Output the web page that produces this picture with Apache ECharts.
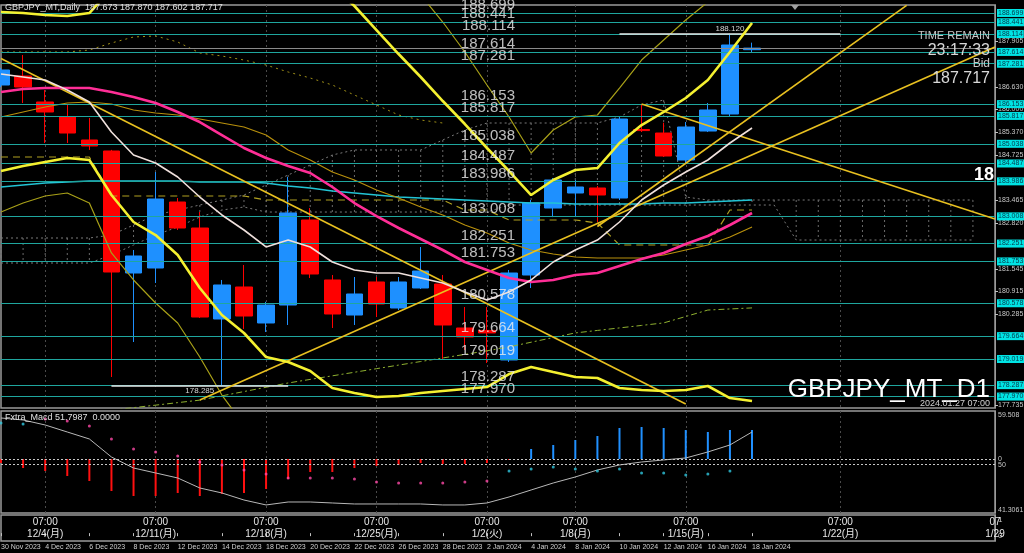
<!DOCTYPE html>
<html><head><meta charset="utf-8">
<script src="https://cdn.jsdelivr.net/npm/echarts@6/dist/echarts.min.js"></script>
<style>html,body{margin:0;padding:0;background:#000;}#c{width:1024px;height:553px;}</style>
</head><body><div id="c"></div>
<script>
const categories = ['30 Nov 2023','1 Dec 2023','4 Dec 2023','5 Dec 2023','6 Dec 2023','7 Dec 2023','8 Dec 2023','11 Dec 2023','12 Dec 2023','13 Dec 2023','14 Dec 2023','15 Dec 2023','18 Dec 2023','19 Dec 2023','20 Dec 2023','21 Dec 2023','22 Dec 2023','25 Dec 2023','26 Dec 2023','27 Dec 2023','28 Dec 2023','29 Dec 2023','2 Jan 2024','3 Jan 2024','4 Jan 2024','5 Jan 2024','8 Jan 2024','9 Jan 2024','10 Jan 2024','11 Jan 2024','12 Jan 2024','15 Jan 2024','16 Jan 2024','17 Jan 2024','18 Jan 2024','19 Jan 2024','20 Jan 2024','21 Jan 2024','22 Jan 2024','23 Jan 2024','24 Jan 2024','25 Jan 2024','26 Jan 2024','27 Jan 2024','28 Jan 2024','29 Jan 2024'];
const weekTickDates = ['4 Dec 2023','11 Dec 2023','18 Dec 2023','25 Dec 2023','2 Jan 2024','8 Jan 2024','15 Jan 2024','22 Jan 2024','29 Jan 2024'];
const weekTickTexts = ['07:00\n12/4(月)','07:00\n12/11(月)','07:00\n12/18(月)','07:00\n12/25(月)','07:00\n1/2(火)','07:00\n1/8(月)','07:00\n1/15(月)','07:00\n1/22(月)','07\n1/29'];
const lastBarDate = '18 Jan 2024';

const opens  = [186.685,186.937,186.210,185.790,185.147,184.839,181.426,181.566,183.412,182.685,180.140,181.035,180.028,180.531,182.909,181.231,180.251,181.175,180.447,181.007,181.119,179.888,179.820,178.993,181.370,183.244,183.664,183.804,183.524,185.440,185.342,184.587,185.398,185.874,187.673];
const closes = [187.105,186.629,185.930,185.342,184.979,181.454,181.902,183.496,182.685,180.195,181.091,180.223,180.531,183.105,181.398,180.279,180.839,180.559,181.175,181.482,179.972,179.636,179.750,181.426,183.384,184.028,183.832,183.608,185.734,185.410,184.699,185.510,185.986,187.804,187.717];
const lows   = [186.630,186.182,185.063,185.063,184.867,178.517,179.496,181.147,182.629,180.168,178.285,179.860,179.776,179.972,181.286,179.888,179.972,180.195,180.391,180.979,178.993,179.272,178.909,178.937,181.007,182.990,182.990,182.850,183.468,185.370,184.671,184.503,185.370,185.790,187.602];
const highs  = [187.161,187.524,186.545,186.126,185.762,184.870,182.070,184.251,183.524,183.133,181.231,181.650,180.620,184.112,183.244,181.370,181.314,181.314,181.314,182.154,181.370,180.475,180.475,181.510,183.468,184.084,184.028,183.860,185.790,186.126,185.630,185.650,186.182,188.120,187.870];

const bbMid   = [186.489,186.573,186.601,186.601,186.601,186.489,186.349,186.182,185.930,185.650,185.286,184.923,184.643,184.419,184.223,183.832,183.384,183.020,182.685,182.377,182.070,181.734,181.510,181.286,181.175,181.231,181.370,181.426,181.622,181.818,181.986,182.238,182.461,182.769,183.105];
const bbUp2   = [188.727,188.699,188.643,188.615,188.699,189.370,189.846,189.874,189.930,190.293,190.321,190.098,190.209,189.902,189.762,189.454,188.895,188.223,187.552,186.909,186.237,185.594,184.923,184.279,183.608,184.028,184.307,184.363,185.063,185.566,185.930,186.321,186.825,187.608,188.419];
const bbLow2  = [184.279,184.419,184.531,184.643,184.587,183.608,182.853,182.489,181.930,181.007,180.251,179.748,179.076,178.936,178.685,178.209,178.069,177.957,177.985,178.069,178.125,178.181,178.237,178.600,178.796,178.656,178.517,178.489,178.209,178.153,178.125,178.153,178.265,177.929,177.845];
const bbUp3   = [189.790,189.790,189.706,189.538,189.622,190.797,191.580,191.720,191.916,192.615,192.839,192.699,192.979,192.643,192.531,192.279,191.356,190.629,189.734,189.202,188.447,187.608,186.685,185.790,184.783,185.426,185.790,185.846,186.601,187.384,187.944,188.503,189.007,189.622,190.321];
const bbLow3  = [183.132,183.384,183.580,183.664,183.384,181.986,181.231,180.587,180.028,179.076,178.013,177.174,176.307,176.195,175.915,175.412,175.412,175.440,175.636,175.915,176.167,176.419,176.614,177.258,177.594,177.370,177.090,177.034,176.503,176.335,176.195,176.111,176.167,175.524,175.216];
const maWhite = [186.993,186.909,186.825,186.545,186.209,185.370,184.727,184.503,184.112,183.552,183.049,182.629,182.154,182.349,182.154,181.734,181.510,181.426,181.426,181.286,181.147,180.895,180.671,180.895,181.231,181.734,182.070,182.349,182.853,183.468,183.888,184.251,184.587,185.063,185.482];
const maCyan  = [183.832,183.888,183.944,183.972,184.000,184.000,184.000,184.000,184.000,183.972,183.972,183.972,183.944,183.860,183.804,183.720,183.664,183.608,183.552,183.524,183.496,183.468,183.440,183.412,183.384,183.384,183.356,183.356,183.356,183.356,183.384,183.384,183.412,183.440,183.468];
const maOlive = [185.790,185.930,186.070,186.182,186.209,186.153,185.986,185.902,185.846,185.734,185.622,185.510,185.286,184.867,184.587,184.251,184.028,183.748,183.524,183.272,183.049,182.769,182.545,182.265,182.070,181.958,181.874,181.846,181.846,181.846,181.930,182.070,182.209,182.433,182.713];
const kijun   = [184.671,184.671,184.671,184.671,184.671,183.580,183.580,183.580,183.580,183.580,183.580,183.580,183.468,183.468,183.468,183.468,183.468,183.468,183.468,183.468,183.468,183.188,183.188,182.909,182.909,182.909,182.909,182.825,182.209,182.209,182.209,182.209,182.209,183.188,183.188];
const chikou  = [null,null,null,null,null,177.59,177.66,177.73,177.80,177.87,177.99,178.11,178.23,178.35,178.45,178.55,178.65,178.75,178.85,178.95,179.05,179.15,179.25,179.36,179.49,179.62,179.75,179.82,179.89,179.96,180.03,180.21,180.39,180.42,180.45];
const spanDotted = [187.608,187.608,187.608,187.608,187.664,187.860,188.028,188.056,187.888,187.580,187.496,187.384,187.244,187.049,186.881,186.685,186.405,186.126,185.846,185.706,185.622];
const cloudTop = [182.405,182.405,182.405,182.405,182.405,182.489,182.769,183.049,183.188,183.328,183.468,183.608,183.888,184.167,184.447,184.727,184.867,184.867,184.867,184.867,185.147,185.426,185.622,185.622,185.622,185.622,185.622,185.622,185.790,186.126,186.265,183.552,183.468,183.468,183.468,183.468,183.468,183.468,183.468,183.468,183.468,183.468,183.468,183.468,183.468,null];
const cloudBot = [181.706,181.706,181.706,181.706,181.706,181.930,182.209,182.489,182.713,182.993,183.188,183.272,183.132,183.132,183.132,183.132,183.132,183.132,183.132,183.132,183.132,183.132,183.132,183.328,183.328,183.328,183.328,183.328,183.328,183.328,183.328,183.328,183.328,183.328,183.328,183.328,182.349,182.349,182.349,182.349,182.349,182.349,182.349,182.349,182.349,null];

const levels = [188.699,188.441,188.114,187.614,187.281,186.153,185.817,185.038,184.487,183.986,183.008,182.251,181.753,180.578,179.664,179.019,178.287,177.970];
const priceTicks = [187.905,186.630,186.000,185.370,184.725,183.465,182.820,181.545,180.915,180.285,177.735];
const bidPrice = 187.717;
const recentHigh = 188.120, recentLow = 178.285;
const trendLines = [
  [['30 Nov 2023',187.426],['15 Jan 2024',177.760]],
  [['13 Dec 2023',177.874],['29 Jan 2024',187.748]],
  [['9 Jan 2024',182.727],['25 Jan 2024',188.914]],
  [['11 Jan 2024',186.153],['29 Jan 2024',182.937]]
];

const macdHist = [-0.04,-0.09,-0.12,-0.17,-0.22,-0.32,-0.37,-0.37,-0.34,-0.37,-0.35,-0.34,-0.30,-0.20,-0.13,-0.13,-0.09,-0.07,-0.06,-0.04,-0.05,-0.05,-0.04,-0.01,0.10,0.14,0.19,0.23,0.31,0.32,0.31,0.29,0.27,0.29,0.29];
const signalPink = [null,null,0.40,0.38,0.33,0.20,0.10,0.07,0.03,-0.03,-0.06,-0.11,-0.15,-0.19,-0.19,-0.19,-0.20,-0.23,-0.24,-0.24,-0.24,-0.23,-0.22,null,null,null,null,null,null,null,null,null,null,null,null];
const signalCyan = [0.36,0.35,null,null,null,null,null,null,null,null,null,null,null,null,null,null,null,null,null,null,null,null,null,-0.12,-0.10,-0.08,-0.10,-0.12,-0.10,-0.14,-0.14,-0.16,-0.15,-0.12,null];
const oscLine = [58.93,58.55,57.59,56.25,54.91,51.46,49.35,48.40,47.44,45.52,44.57,43.22,42.27,42.84,42.84,42.65,42.46,42.46,42.46,42.46,42.27,42.27,42.65,43.80,45.14,46.48,47.63,48.97,49.93,50.50,50.89,51.27,52.42,53.76,56.25];
const oscTicks = [59.508,50,41.3061];
const oscTickText = ['59.508','50','41.3061'];

const FONT = '"Liberation Sans", Arial, sans-serif';
const GRIDC = '#9a9a9a';
const candleData = opens.map((o,i)=>[o, closes[i], lows[i], highs[i]]);
const isWeek = (i)=> weekTickDates.indexOf(categories[i]) >= 0;
const lastIdx = categories.indexOf(lastBarDate);

const chart = echarts.init(document.getElementById('c'), null, {renderer:'canvas'});

function lineSeries(name, data, color, width, type, z){
  return {name, type:'line', xAxisIndex:0, yAxisIndex:0, data, showSymbol:false, symbol:'none',
    lineStyle:{color, width, type: type||'solid'}, z: z||4, silent:true, connectNulls:false};
}

const levelMarks = levels.map(v=>({yAxis:v, lineStyle:{color:'#1fa69e', width:1, type:'solid'},
  label:{show:true, position:'end', distance:2, formatter: v.toFixed(3), fontSize:7, fontFamily:FONT,
    color:'#05384a', backgroundColor:'#00e4e4', padding:[1,1,0,1]}}));
levelMarks.push({yAxis:bidPrice, lineStyle:{color:'#8a8a8a', width:1, type:'solid'}, label:{show:false}});
const segMarks = [
  [{coord:['10 Jan 2024', recentHigh], lineStyle:{color:'#e8e8e8', width:1.5, type:'solid'},
    label:{show:true, position:'insideMiddleTop', formatter: recentHigh.toFixed(3), color:'#d8d8d8', fontSize:8, fontFamily:FONT, distance:1}},
   {coord:['22 Jan 2024', recentHigh]}],
  [{coord:['7 Dec 2023', recentLow], lineStyle:{color:'#e8e8e8', width:1.5, type:'solid'},
    label:{show:true, position:'insideMiddleBottom', formatter: recentLow.toFixed(3), color:'#d8d8d8', fontSize:8, fontFamily:FONT, distance:1}},
   {coord:['19 Dec 2023', recentLow]}]
];
const trendMarks = trendLines.map(t=>[{coord:t[0], lineStyle:{color:'#e8c020', width:1.6, type:'solid'}, label:{show:false}},{coord:t[1]}]);

const gridBase = {left:1, right:29, show:true, borderColor:GRIDC, borderWidth:1.5, outerBoundsMode:'none', containLabel:false};

const option = {
  backgroundColor:'#000',
  animation:false,
  textStyle:{fontFamily:FONT},
  grid:[
    Object.assign({}, gridBase, {top:5, height:403}),
    Object.assign({}, gridBase, {top:411, height:102}),
    Object.assign({}, gridBase, {top:515, height:26})
  ],
  xAxis:[
    {gridIndex:0, type:'category', data:categories, boundaryGap:false, axisLine:{show:false}, axisTick:{show:false}, axisLabel:{show:false},
      splitLine:{show:true, interval:(i)=>isWeek(i), lineStyle:{color:'#4a4a4a', type:[2,3], width:1}}},
    {gridIndex:1, type:'category', data:categories, boundaryGap:false, axisLine:{show:false}, axisTick:{show:false}, axisLabel:{show:false},
      splitLine:{show:true, interval:(i)=>isWeek(i), lineStyle:{color:'#4a4a4a', type:[2,3], width:1}}},
    {gridIndex:2, type:'category', data:categories, boundaryGap:false, position:'bottom',
      axisLine:{show:false}, axisTick:{show:true, interval:(i)=> i%2===0 && i<=lastIdx, length:3, inside:true, lineStyle:{color:'#c0c0c0'}},
      axisLabel:{show:true, showMinLabel:true, hideOverlap:false, interval:(i)=> i%2===0 && i<=lastIdx, align:'left', margin:3, fontSize:7, color:'#d0d0d0', fontFamily:FONT},
      splitLine:{show:false}},
    {gridIndex:2, type:'category', data:categories, boundaryGap:false, position:'top',
      axisLine:{show:false}, axisTick:{show:false},
      axisLabel:{show:true, inside:true, margin:1, showMaxLabel:true, interval:(i)=>isWeek(i), fontSize:10, lineHeight:12, color:'#e8e8e8',
        fontFamily:'"Liberation Sans","Noto Sans CJK JP",sans-serif',
        formatter:(v)=>{const k=weekTickDates.indexOf(v); return k>=0?weekTickTexts[k]:'';}},
      splitLine:{show:false}}
  ],
  yAxis:[
    {gridIndex:0, type:'value', position:'right', min:177.65, max:188.923, scale:true, splitLine:{show:false},
      axisLine:{show:true, lineStyle:{color:GRIDC}},
      axisTick:{show:true, customValues:priceTicks, length:3, lineStyle:{color:'#c0c0c0'}},
      axisLabel:{show:true, customValues:priceTicks, margin:3, fontSize:7, color:'#c8c8c8', fontFamily:FONT, formatter:(v)=>v.toFixed(3)}},
    {gridIndex:1, type:'value', position:'right', min:-0.54, max:0.48, splitLine:{show:false},
      axisLine:{show:true, lineStyle:{color:GRIDC}}, axisTick:{show:false},
      axisLabel:{show:true, customValues:[0], margin:3, fontSize:7, color:'#c8c8c8', formatter:()=> '0'}},
    {gridIndex:1, type:'value', position:'right', min:40.73, max:60.27, splitLine:{show:false},
      axisLine:{show:false}, axisTick:{show:false},
      axisLabel:{show:true, customValues:oscTicks, margin:3, fontSize:7, color:'#c8c8c8',
        formatter:(v)=>{let b=0; oscTicks.forEach((t,k)=>{ if(Math.abs(t-v)<Math.abs(oscTicks[b]-v)) b=k;}); return oscTickText[b];}}},
    {gridIndex:2, type:'value', position:'right', min:-0.3, max:1.3, splitLine:{show:false},
      axisLine:{show:true, lineStyle:{color:GRIDC}}, axisTick:{show:false},
      axisLabel:{show:true, customValues:[0,1], margin:3, fontSize:8, color:'#c8c8c8', formatter:(v)=>String(Math.round(v))}}
  ],
  series:[
    {name:'cloudHatch', type:'custom', xAxisIndex:0, yAxisIndex:0, z:1, silent:true,
      data: cloudTop.map((t,i)=>[i, t, cloudBot[i]]).filter(d=>d[1]!=null),
      renderItem:(params, api)=>{
        const a = api.coord([api.value(0), api.value(1)]);
        const b = api.coord([api.value(0), api.value(2)]);
        return {type:'line', shape:{x1:a[0], y1:a[1], x2:b[0], y2:b[1]}, style:{stroke:'#6a6a6a', lineWidth:1, lineDash:[2,3]}};
      }},
    lineSeries('cloudTop', cloudTop, '#7a7a7a', 1, [2,3], 1),
    lineSeries('cloudBot', cloudBot, '#7a7a7a', 1, [2,3], 1),
    {name:'price', type:'candlestick', xAxisIndex:0, yAxisIndex:0, data:candleData, barWidth:17, z:2,
      itemStyle:{color:'#1e90ff', color0:'#ff0000', borderColor:'#1e90ff', borderColor0:'#ff0000', borderWidth:1}},
    lineSeries('spanDotted', spanDotted, '#a09018', 1, [2,4], 3),
    lineSeries('kijun', kijun, '#b0a020', 1.2, [7,5], 3),
    lineSeries('chikou', chikou, '#8fb030', 1, [6,3,2,3], 3),
    lineSeries('maCyan', maCyan, '#22c4d4', 1.6, 'solid', 4),
    lineSeries('maOlive', maOlive, '#b8900c', 1.2, 'solid', 4),
    lineSeries('bbUp3', bbUp3, '#a8a018', 1.2, 'solid', 4),
    lineSeries('bbLow3', bbLow3, '#a8a018', 1.2, 'solid', 4),
    lineSeries('bbMid', bbMid, '#ff2e96', 2.6, 'solid', 5),
    lineSeries('maWhite', maWhite, '#efe0dc', 1.6, 'solid', 5),
    lineSeries('bbUp2', bbUp2, '#f4f030', 2.6, 'solid', 5),
    lineSeries('bbLow2', bbLow2, '#f4f030', 2.6, 'solid', 5),
    {name:'objects', type:'line', xAxisIndex:0, yAxisIndex:0, data:[], z:6, silent:true,
      markLine:{silent:true, symbol:['none','none'], animation:false, data: levelMarks.concat(segMarks).concat(trendMarks)}},
    {name:'levelText', type:'scatter', xAxisIndex:0, yAxisIndex:0, z:7, silent:true, symbolSize:0,
      data: levels.map(v=>[categories[23], v]),
      label:{show:true, position:'left', distance:-6, offset:[0,-8], formatter:(p)=>p.value[1].toFixed(3),
        color:'#ececec', fontSize:15, fontFamily:FONT}},
    {name:'hist', type:'bar', xAxisIndex:1, yAxisIndex:1, data: macdHist.map(v=>({value:v, itemStyle:{color: v<0?'#ff1010':'#2090ff'}})), barWidth:2, z:3,
      markLine:{silent:true, symbol:['none','none'], data:[{yAxis:0}], lineStyle:{color:'#c8c8c8', type:[2,2], width:1}, label:{show:false}}},
    {name:'osc', type:'line', xAxisIndex:1, yAxisIndex:2, data:oscLine, showSymbol:false, lineStyle:{color:'#b8b8b8', width:1}, z:4,
      markLine:{silent:true, symbol:['none','none'], data:[{yAxis:50}], lineStyle:{color:'#c8c8c8', type:[2,2], width:1}, label:{show:false}}},
    {name:'sigPink', type:'scatter', xAxisIndex:1, yAxisIndex:1, data:signalPink, symbolSize:3, itemStyle:{color:'#ff4aa8'}, z:5},
    {name:'sigCyan', type:'scatter', xAxisIndex:1, yAxisIndex:1, data:signalCyan, symbolSize:3, itemStyle:{color:'#30c8e0'}, z:5}
  ],
  graphic:[
    {type:'text', x:5, y:3, z:20, style:{text:'GBPJPY_MT,Daily  187.673 187.870 187.602 187.717', fill:'#e0e0e0', font:'9px '+FONT}},
    {type:'text', x:5, y:413, z:20, style:{text:'Fxtra_Macd 51.7987  0.0000', fill:'#e0e0e0', font:'9px '+FONT}},
    {type:'text', x:990, y:36, z:20, style:{text:'TIME REMAIN', fill:'#c8c8c8', font:'11px '+FONT, align:'right', verticalAlign:'middle'}},
    {type:'text', x:990, y:51, z:20, style:{text:'23:17:33', fill:'#d8d8d8', font:'16px '+FONT, align:'right', verticalAlign:'middle'}},
    {type:'text', x:990, y:64, z:20, style:{text:'Bid', fill:'#c8c8c8', font:'12px '+FONT, align:'right', verticalAlign:'middle'}},
    {type:'text', x:990, y:79, z:20, style:{text:'187.717', fill:'#d8d8d8', font:'16px '+FONT, align:'right', verticalAlign:'middle'}},
    {type:'text', x:974, y:175, z:20, style:{text:'18', fill:'#ffffff', font:'bold 18px '+FONT, verticalAlign:'middle'}},
    {type:'text', x:990, y:390, z:20, style:{text:'GBPJPY_MT_D1', fill:'#ffffff', font:'26px '+FONT, align:'right', verticalAlign:'middle'}},
    {type:'text', x:990, y:404, z:20, style:{text:'2024.01.27 07:00', fill:'#d0d0d0', font:'9px '+FONT, align:'right', verticalAlign:'middle'}},
    {type:'polygon', z:20, shape:{points:[[791,5],[799,5],[795,10]]}, style:{fill:'#a0a0a0'}}
  ]
};
chart.setOption(option);
</script>
</body></html>
